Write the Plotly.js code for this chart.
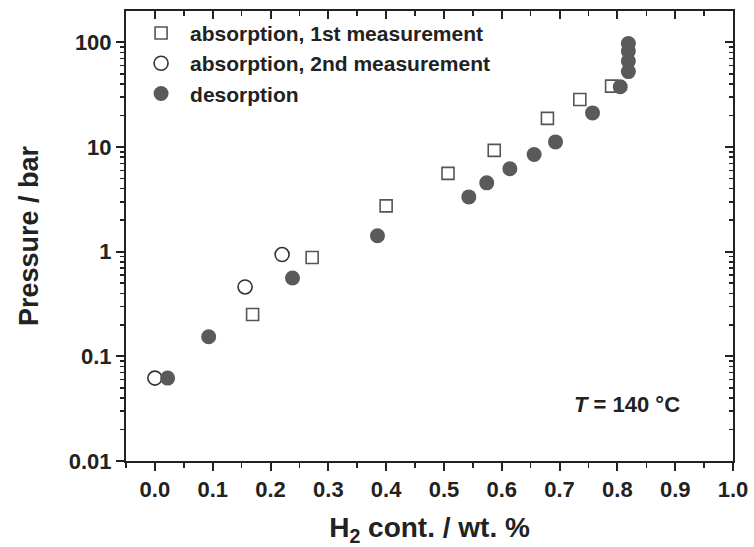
<!DOCTYPE html>
<html>
<head>
<meta charset="utf-8">
<script src="https://cdn.plot.ly/plotly-3.0.1.min.js"></script>
<style>
html,body{margin:0;padding:0;background:#fff;}
#chart{width:754px;height:547px;}
</style>
</head>
<body>
<div id="chart"></div>
<script>
// absorption, 1st measurement
const abs1X = [0.169, 0.272, 0.400, 0.507, 0.587, 0.679, 0.735, 0.790];
const abs1Y = [0.251, 0.88, 2.74, 5.6, 9.3, 18.8, 28.5, 38.2];
// absorption, 2nd measurement
const abs2X = [0.0, 0.156, 0.220];
const abs2Y = [0.062, 0.46, 0.94];
// desorption
const desX = [0.022, 0.093, 0.238, 0.385, 0.543, 0.574, 0.614, 0.656, 0.693, 0.757, 0.805, 0.819, 0.819, 0.819, 0.819];
const desY = [0.062, 0.154, 0.56, 1.42, 3.34, 4.55, 6.2, 8.5, 11.2, 21.2, 37.7, 97.5, 82.6, 66.4, 52.6];
const seriesNames = ['absorption, 1st measurement', 'absorption, 2nd measurement', 'desorption'];
const annotationText = '<i>T</i> = 140 °C';

const FONT = 'Liberation Sans, Arial, sans-serif';
const INK = '#222222';

const traces = [
  {x: abs1X, y: abs1Y, name: seriesNames[0], type: 'scatter', mode: 'markers',
   marker: {symbol: 'square-open', size: 12, color: '#555555', line: {width: 1.6, color: '#555555'}}},
  {x: abs2X, y: abs2Y, name: seriesNames[1], type: 'scatter', mode: 'markers',
   marker: {symbol: 'circle-open', size: 14, color: '#333333', line: {width: 1.6, color: '#333333'}}},
  {x: desX, y: desY, name: seriesNames[2], type: 'scatter', mode: 'markers',
   marker: {symbol: 'circle', size: 15, color: '#5a5a5a', line: {width: 0}}},
  {x: [], y: [], xaxis: 'x2', yaxis: 'y2', showlegend: false, hoverinfo: 'skip', type: 'scatter', mode: 'markers'}
];

const layout = {
  width: 754, height: 547,
  margin: {l: 126, r: 20.5, t: 11, b: 85.5},
  paper_bgcolor: '#ffffff', plot_bgcolor: '#ffffff',
  font: {family: FONT, color: INK, size: 20, weight: 'bold'},
  showlegend: true,
  legend: {x: 0.01, y: 0.996, xanchor: 'left', yanchor: 'top', bgcolor: 'rgba(0,0,0,0)',
           font: {family: FONT, size: 21, color: INK, weight: 'bold'}, itemwidth: 48, tracegroupgap: 0},
  xaxis: {range: [-0.05, 1.0], dtick: 0.1, tick0: 0, tickformat: '.1f',
          showgrid: false, zeroline: false, showline: true, linewidth: 2, linecolor: INK, mirror: true,
          ticks: 'outside', ticklen: 8, tickwidth: 2, tickcolor: INK,
          minor: {ticks: 'outside', ticklen: 4.5, tickwidth: 1.5, tickcolor: INK, dtick: 0.05, showgrid: false},
          tickfont: {family: FONT, size: 22, color: INK, weight: 'bold'},
          title: {text: 'H<sub>2</sub> cont. / wt. %', standoff: 18, font: {family: FONT, size: 28, color: INK, weight: 'bold'}}},
  yaxis: {type: 'log', range: [-2, 2.3], dtick: 1,
          showgrid: false, zeroline: false, showline: true, linewidth: 2, linecolor: INK, mirror: true,
          ticks: 'outside', ticklen: 8, tickwidth: 2, tickcolor: INK,
          minor: {ticks: 'outside', ticklen: 4.5, tickwidth: 1.5, tickcolor: INK, dtick: 'D1', showgrid: false},
          tickfont: {family: FONT, size: 22, color: INK, weight: 'bold'},
          title: {text: 'Pressure / bar', standoff: 22, font: {family: FONT, size: 27, color: INK, weight: 'bold'}}},
  xaxis2: {overlaying: 'x', side: 'top', anchor: 'y2', range: [-0.05, 1.0], dtick: 0.1, tick0: 0,
           showgrid: false, zeroline: false, showline: false, showticklabels: false,
           ticks: 'inside', ticklen: 8, tickwidth: 2, tickcolor: INK,
           minor: {ticks: 'inside', ticklen: 4.5, tickwidth: 1.5, tickcolor: INK, dtick: 0.05, showgrid: false}},
  yaxis2: {overlaying: 'y', side: 'right', anchor: 'x2', type: 'log', range: [-2, 2.3], dtick: 1,
           showgrid: false, zeroline: false, showline: false, showticklabels: false,
           ticks: 'inside', ticklen: 8, tickwidth: 2, tickcolor: INK,
           minor: {ticks: 'inside', ticklen: 4.5, tickwidth: 1.5, tickcolor: INK, dtick: 'D1', showgrid: false}},
  annotations: [
    {text: annotationText, xref: 'paper', yref: 'paper', x: 0.825, y: 0.125, xanchor: 'center', yanchor: 'middle',
     showarrow: false, font: {family: FONT, size: 22, color: INK, weight: 'bold'}}
  ]
};

Plotly.newPlot('chart', traces, layout, {staticPlot: true, displayModeBar: false});
</script>
</body>
</html>
